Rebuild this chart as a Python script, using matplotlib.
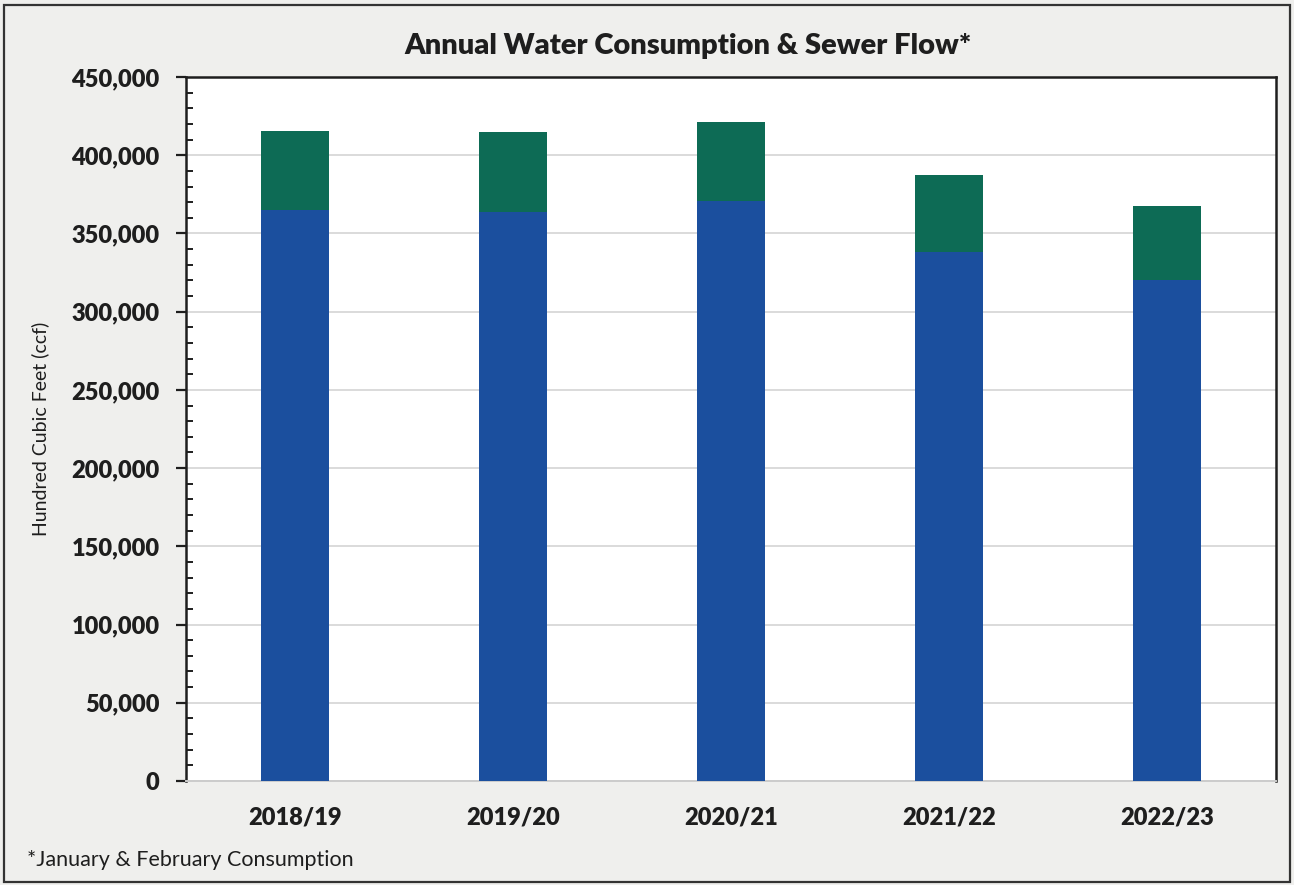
import matplotlib
matplotlib.use("Agg")
from matplotlib import pyplot as plt
from matplotlib.ticker import FuncFormatter, MultipleLocator
from matplotlib.patches import Rectangle

years = ["2018/19", "2019/20", "2020/21", "2021/22", "2022/23"]
# bottom segment (blue) and Jan/Feb segment on top (green), in ccf
base_ccf = [365000, 363900, 370900, 338400, 320300]
janfeb_ccf = [50700, 50800, 50200, 49000, 47500]

BLUE = "#1b4f9e"
GREEN = "#0d6b55"
INK = "#1e1e1e"

plt.rcParams["font.family"] = ["Lato", "DejaVu Sans"]

fig = plt.figure(figsize=(12.94, 8.85), dpi=100, facecolor="#efefed")
fig.patches.append(Rectangle((0.003, 0.003), 0.994, 0.991, transform=fig.transFigure,
                             fill=False, edgecolor="#333333", linewidth=1.6))

ax = fig.add_axes([0.1437, 0.1175, 0.8424, 0.7955])
ax.set_facecolor("white")

x = range(len(years))
ax.bar(x, base_ccf, width=0.31, color=BLUE, zorder=3)
ax.bar(x, janfeb_ccf, width=0.31, bottom=base_ccf, color=GREEN, zorder=3)

ax.set_xlim(-0.5, len(years) - 0.5)
ax.set_ylim(0, 450000)
ax.yaxis.set_major_locator(MultipleLocator(50000))
ax.yaxis.set_minor_locator(MultipleLocator(10000))
ax.yaxis.set_major_formatter(FuncFormatter(lambda y, _: "{:,.0f}".format(y)))
ax.grid(axis="y", color="#d4d4d4", linewidth=1.2, zorder=0)

ax.set_xticks(list(x))
ax.set_xticklabels(years, fontsize=17, fontweight="heavy", color=INK)
ax.tick_params(axis="x", length=0, pad=18)
ax.tick_params(axis="y", which="major", direction="out", length=7, width=1.6,
               color=INK, labelsize=17, pad=12)
ax.tick_params(axis="y", which="minor", direction="in", length=5, width=1.4, color=INK)
for lab in ax.get_yticklabels():
    lab.set_fontweight("heavy")
    lab.set_color(INK)

for side in ["left", "top", "right"]:
    ax.spines[side].set_color(INK)
    ax.spines[side].set_linewidth(1.8)
ax.spines["bottom"].set_color("#cccccc")
ax.spines["bottom"].set_linewidth(1.4)

ax.set_ylabel("Hundred Cubic Feet (ccf)", fontsize=14, color=INK, labelpad=16)
fig.text(0.532, 0.948, "Annual Water Consumption & Sewer Flow*", ha="center", va="center",
         fontsize=21, fontweight="heavy", color=INK)
fig.text(0.021, 0.028, "*January & February Consumption", ha="left", va="center",
         fontsize=15.5, color=INK)

fig.savefig("out.png", dpi=100, facecolor=fig.get_facecolor())
